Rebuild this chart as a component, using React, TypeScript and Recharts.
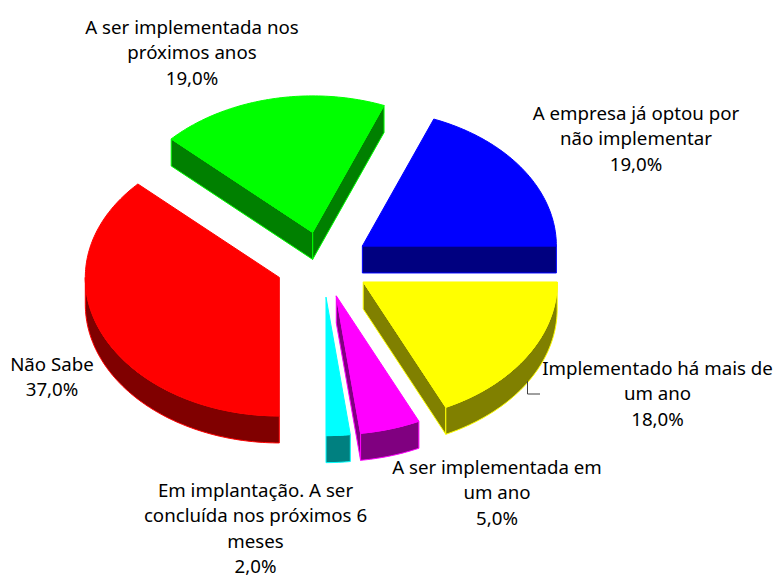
import React from 'react';
import { PieChart, Pie } from 'recharts';

const categories = [
  'Implementado há mais de\num ano',
  'A ser implementada em\num ano',
  'Em implantação. A ser\nconcluída nos próximos 6\nmeses',
  'Não Sabe',
  'A ser implementada nos\npróximos anos',
  'A empresa já optou por\nnão implementar',
];
const values = [18, 5, 2, 37, 19, 19];
const topColors = ['#ffff00', '#ff00ff', '#00ffff', '#ff0000', '#00ff00', '#0000ff'];
const wallColors = ['#808000', '#800080', '#008080', '#800000', '#008000', '#000080'];
const labelAnchors: [number, number][] = [
  [657.5, 367.5], [497, 466.5], [255.5, 489.5], [52, 363.5], [192, 26.5], [636, 112.5],
];
const data = categories.map((name, i) => ({ name, value: values[i], top: topColors[i], wall: wallColors[i] }));

const RX = 194;
const RY_BACK = 136.5;
const RY_FRONT = 138.5;
const DEPTH = 27;
const EXPLODE_X = 47.6;
const EXPLODE_Y = 32.8;
const FONT = '"Noto Sans"';
const FONT_SIZE = 18.7;
const LINE = 25.3;
const rad = (d: number) => (d * Math.PI) / 180;

function Slice3D(props: any) {
  const { cx, cy, startAngle, endAngle } = props;
  const fill = props.top ?? props.payload?.top;
  const wall = props.wall ?? props.payload?.wall;
  const lo = Math.min(startAngle, endAngle);
  const hi = Math.max(startAngle, endAngle);
  const mid = (lo + hi) / 2;
  const ox = cx + EXPLODE_X * Math.cos(rad(mid));
  const oy = cy - EXPLODE_Y * Math.sin(rad(mid));
  const pt = (a: number, d = 0): [number, number] => {
    const s = Math.sin(rad(a));
    return [ox + RX * Math.cos(rad(a)), oy - (s > 0 ? RY_BACK : RY_FRONT) * s + d];
  };
  const arcPts = (a: number, b: number, d = 0) => {
    const n = Math.max(2, Math.ceil(Math.abs(b - a)));
    const out: string[] = [];
    for (let i = 0; i <= n; i++) {
      const [x, y] = pt(a + ((b - a) * i) / n, d);
      out.push(`${x.toFixed(2)} ${y.toFixed(2)}`);
    }
    return out.join('L');
  };
  const radial = (a: number) => {
    const [x, y] = pt(a);
    return `M${ox} ${oy}L${x} ${y}L${x} ${y + DEPTH}L${ox} ${oy + DEPTH}Z`;
  };
  const showLo = Math.cos(rad(lo)) > 1e-6;
  const showHi = Math.cos(rad(hi)) < -1e-6;
  const wLo = Math.max(lo, -180);
  const wHi = Math.min(hi, 0);
  const outer = wHi > wLo ? `M${arcPts(wHi, wLo)}L${arcPts(wLo, wHi, DEPTH)}Z` : '';
  const topPath = `M${ox} ${oy}L${arcPts(hi, lo)}Z`;
  return (
    <g>
      {showLo && <path d={radial(lo)} fill={wall} stroke={fill} strokeWidth={1} />}
      {showHi && <path d={radial(hi)} fill={wall} stroke={fill} strokeWidth={1} />}
      {outer && <path d={outer} fill={wall} stroke={fill} strokeWidth={1} />}
      <path d={topPath} fill={fill} stroke={fill} strokeWidth={1} />
    </g>
  );
}

function SliceLabel(props: any) {
  const { index } = props;
  const [x, y] = labelAnchors[index];
  const lines = [...categories[index].split('\n'), `${values[index].toFixed(1).replace('.', ',')}%`];
  return (
    <g>
      {index === 0 && <polyline points="527.5,381 527.5,394 540,394" fill="none" stroke="#404040" strokeWidth={1} />}
      <text x={x} y={y} textAnchor="middle" fontFamily={FONT} fontSize={FONT_SIZE} fill="#000000">
        {lines.map((l, i) => (
          <tspan key={i} x={x} y={y + i * LINE} dominantBaseline="central">{l}</tspan>
        ))}
      </text>
    </g>
  );
}

export default function App() {
  return (
    <div style={{ position: 'absolute', left: 0, top: 0, width: 775, height: 575, background: '#fff' }}>
      <PieChart width={775} height={575} margin={{ top: 0, right: 0, bottom: 0, left: 0 }}>
        <Pie
          data={data}
          dataKey="value"
          nameKey="name"
          cx={323}
          cy={264.4}
          outerRadius={RX}
          innerRadius={0}
          startAngle={0}
          endAngle={-360}
          paddingAngle={0}
          shape={Slice3D}
          label={SliceLabel}
          labelLine={false}
          isAnimationActive={false}
        />
      </PieChart>
    </div>
  );
}
